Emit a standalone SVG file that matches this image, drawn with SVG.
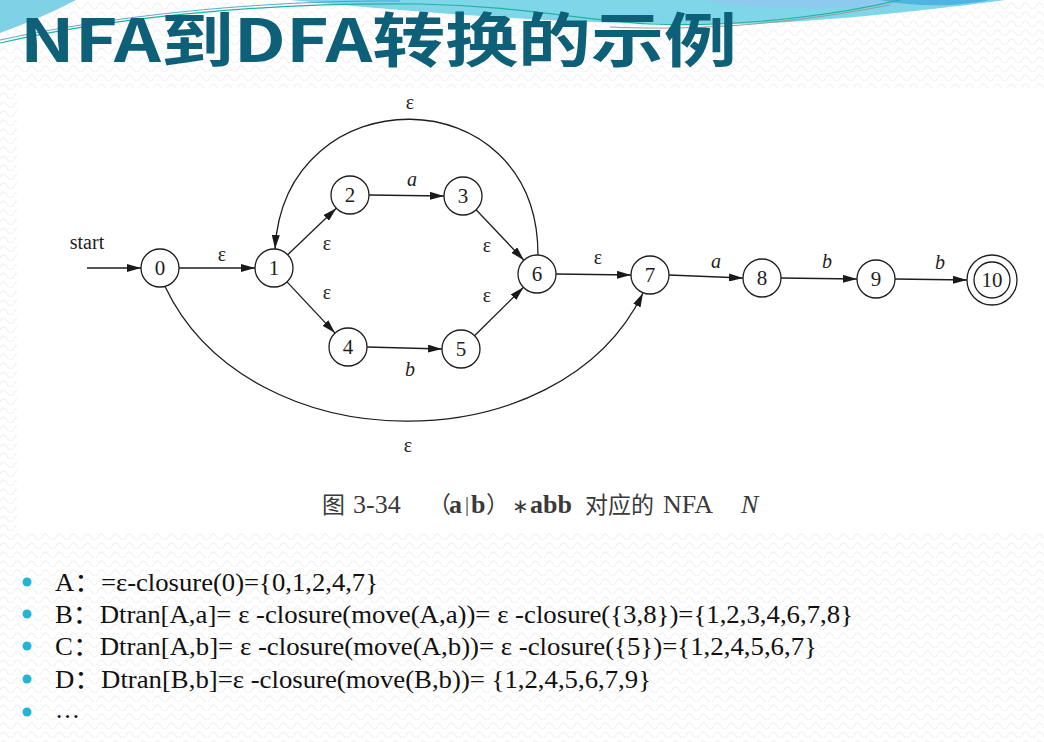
<svg xmlns="http://www.w3.org/2000/svg" width="1044" height="742" viewBox="0 0 1044 742">
  <defs>
    <pattern id="wave" width="14" height="9" patternUnits="userSpaceOnUse">
      <path d="M0,6 Q3.5,0 7,6 T14,6" fill="none" stroke="#f3f3f3" stroke-width="1.4"/>
    </pattern>
    <marker id="arrow" viewBox="0 0 14 8" refX="14" refY="4" markerWidth="14" markerHeight="8" markerUnits="userSpaceOnUse" orient="auto">
      <path d="M0,0 L14,4 L0,8 Z" fill="#1a1a1a"/>
    </marker>
    <style>
      .state { fill: #ffffff; stroke: #1e1e1e; stroke-width: 1.3; }
      .num { font-family: "Liberation Serif", serif; font-size: 21px; fill: #1e1e1e; text-anchor: middle; }
      .edge { fill: none; stroke: #1e1e1e; stroke-width: 1.3; marker-end: url(#arrow); }
      .lbl { font-family: "Liberation Serif", serif; font-size: 20px; fill: #1e1e1e; text-anchor: middle; }
      .it { font-style: italic; }
      .cap { font-family: "Liberation Serif", "Noto Sans CJK SC", serif; font-size: 26px; fill: #3a3a3a; }
      .cjk { font-family: "Noto Sans CJK SC", sans-serif; font-size: 23px; }
      .b { font-weight: bold; }
      .row { font-family: "Liberation Serif", "Noto Sans CJK SC", serif; font-size: 25px; fill: #111111; }
      .dot { fill: #22b6d4; }
    </style>
  </defs>

  <!-- slide background -->
  <rect width="1044" height="742" fill="#ffffff"/>
  <rect width="1044" height="742" fill="url(#wave)"/>

  <!-- top swoosh decoration -->
  <path d="M0,0 L76,0 Q42,18 0,33 Z" fill="#7fd2e6"/>
  <path d="M290,0 C450,16 650,30 790,22 C880,16 960,6 1005,0 Z" fill="#7fd6e8"/>
  <path d="M700,0 C760,10 860,12 935,0 Z" fill="#8ec9ef"/>
  <path d="M880,0 C920,8 960,6 990,0 Z" fill="#4fb4e2"/>
  <path d="M0,43 C100,20 250,2 420,4 C520,6 580,20 650,24 C750,28 850,12 900,0" fill="none" stroke="#1fb59c" stroke-width="1.2"/>
  <path d="M0,40 C110,16 260,0 400,1" fill="none" stroke="#3a8fd0" stroke-width="0.8"/>
  <path d="M610,27 C700,31 790,24 890,5" fill="none" stroke="#9a9a9a" stroke-width="1"/>

  <!-- title -->
  <text x="20" y="62" font-family="'Noto Sans CJK SC', sans-serif" font-weight="bold" font-size="59" fill="#0e5f78" textLength="717" lengthAdjust="spacingAndGlyphs">NFA到DFA转换的示例</text>

  <!-- figure panel -->
  <rect x="17" y="88" width="1027" height="445" fill="#ffffff"/>

  <g id="connectors">
    <path class="edge" d="M87,268 L141,268"/>
    <path class="edge" d="M179,268 L255,268"/>
    <path class="edge" d="M287.7,254.8 L336.3,208.2"/>
    <path class="edge" d="M369,195 L444,196"/>
    <path class="edge" d="M287,281.9 L335,333.1"/>
    <path class="edge" d="M367,347 L442,349"/>
    <path class="edge" d="M476.1,209.8 L523.9,260.2"/>
    <path class="edge" d="M474.5,335.7 L523.5,287.3"/>
    <path class="edge" d="M556,274 L631,275"/>
    <path class="edge" d="M669,275 L743,278"/>
    <path class="edge" d="M781,278 L857,279"/>
    <path class="edge" d="M895,279 L967,280"/>
    <path class="edge" d="M538,255 C538,75 285,75 275,249"/>
    <path class="edge" d="M165,286.5 C250,465 560,465 643,293"/>

    <text class="lbl" x="87" y="249" font-size="18">start</text>
    <text class="lbl" x="410" y="109">ε</text>
    <text class="lbl" x="222" y="261">ε</text>
    <text class="lbl" x="327" y="250">ε</text>
    <text class="lbl" x="327" y="299">ε</text>
    <text class="lbl it" x="412" y="186">a</text>
    <text class="lbl" x="487" y="252">ε</text>
    <text class="lbl" x="487" y="302">ε</text>
    <text class="lbl it" x="410" y="376">b</text>
    <text class="lbl" x="598" y="264">ε</text>
    <text class="lbl it" x="716" y="268">a</text>
    <text class="lbl it" x="827" y="268">b</text>
    <text class="lbl it" x="940" y="269">b</text>
    <text class="lbl" x="408" y="452">ε</text>
  </g>

  <g id="node-0"><circle class="state" cx="160" cy="268" r="19"/><text class="num" x="160" y="275">0</text></g>
  <g id="node-1"><circle class="state" cx="274" cy="268" r="19"/><text class="num" x="274" y="275">1</text></g>
  <g id="node-2"><circle class="state" cx="350" cy="195" r="19"/><text class="num" x="350" y="202">2</text></g>
  <g id="node-3"><circle class="state" cx="463" cy="196" r="19"/><text class="num" x="463" y="203">3</text></g>
  <g id="node-4"><circle class="state" cx="348" cy="347" r="19"/><text class="num" x="348" y="354">4</text></g>
  <g id="node-5"><circle class="state" cx="461" cy="349" r="19"/><text class="num" x="461" y="356">5</text></g>
  <g id="node-6"><circle class="state" cx="537" cy="274" r="19"/><text class="num" x="537" y="281">6</text></g>
  <g id="node-7"><circle class="state" cx="650" cy="275" r="19"/><text class="num" x="650" y="282">7</text></g>
  <g id="node-8"><circle class="state" cx="762" cy="278" r="19"/><text class="num" x="762" y="285">8</text></g>
  <g id="node-9"><circle class="state" cx="876" cy="279" r="19"/><text class="num" x="876" y="286">9</text></g>
  <g id="node-10">
    <circle class="state" cx="992" cy="280" r="25"/>
    <circle class="state" cx="992" cy="280" r="18"/>
    <text class="num" x="992" y="287" font-size="20">10</text>
  </g>

  <!-- figure caption -->
  <g id="caption" class="cap">
    <text x="322" y="513" class="cjk">图</text>
    <text x="353" y="513">3-34</text>
    <text x="428" y="513" class="cjk">（</text>
    <text x="449" y="513" class="b">a</text>
    <text x="465" y="511" font-size="20">|</text>
    <text x="471" y="513" class="b">b</text>
    <text x="486" y="513" class="cjk">）</text>
    <text x="512" y="513" font-size="20">∗</text>
    <text x="530" y="513" class="b">abb</text>
    <text x="585" y="513" class="cjk">对应的</text>
    <text x="663" y="513">NFA</text>
    <text x="741" y="513" class="it">N</text>
  </g>

  <!-- bullet list -->
  <g id="bullets">
    <circle class="dot" cx="27" cy="582" r="4.5"/>
    <circle class="dot" cx="27" cy="614" r="4.5"/>
    <circle class="dot" cx="27" cy="646" r="4.5"/>
    <circle class="dot" cx="27" cy="679" r="4.5"/>
    <circle class="dot" cx="27" cy="712" r="4.5"/>
    <text class="row" x="55" y="591" textLength="323" lengthAdjust="spacingAndGlyphs">A：=ε-closure(0)={0,1,2,4,7}</text>
    <text class="row" x="55" y="623" textLength="798" lengthAdjust="spacingAndGlyphs">B：Dtran[A,a]= ε -closure(move(A,a))= ε -closure({3,8})={1,2,3,4,6,7,8}</text>
    <text class="row" x="55" y="655" textLength="762" lengthAdjust="spacingAndGlyphs">C：Dtran[A,b]= ε -closure(move(A,b))= ε -closure({5})={1,2,4,5,6,7}</text>
    <text class="row" x="55" y="688" textLength="596" lengthAdjust="spacingAndGlyphs">D：Dtran[B,b]=ε -closure(move(B,b))= {1,2,4,5,6,7,9}</text>
    <text class="row" x="55" y="718">…</text>
  </g>
</svg>
